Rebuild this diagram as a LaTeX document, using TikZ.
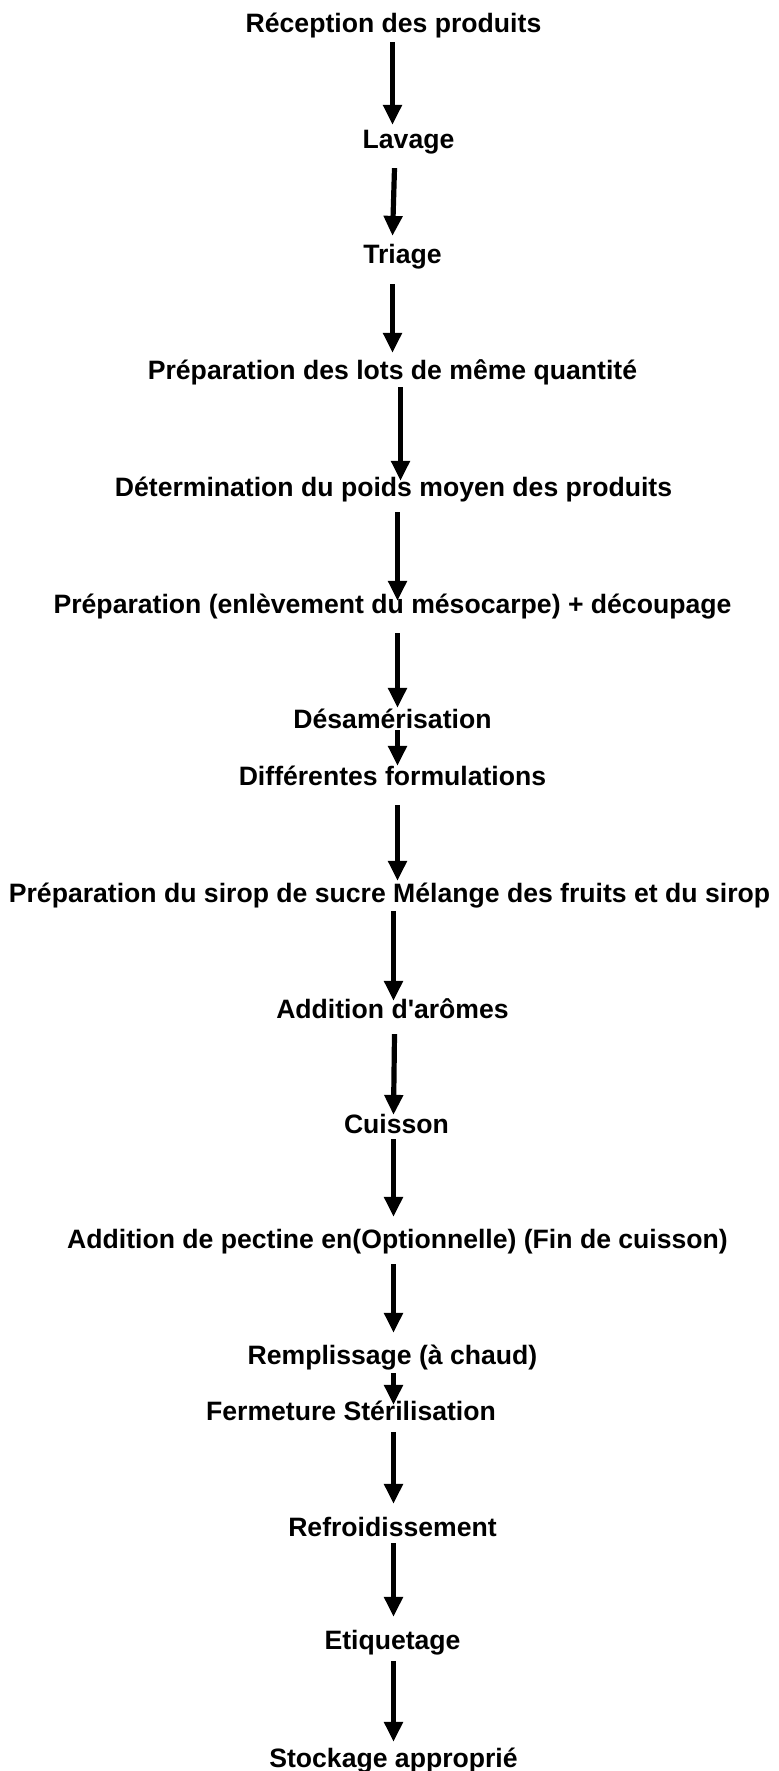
\documentclass[tikz,border=0pt]{standalone}
\usepackage{fontspec}
\setmainfont{Liberation Sans}
\usetikzlibrary{arrows.meta}

\begin{document}
\begin{tikzpicture}[x=0.5pt, y=-0.5pt, >={Triangle[width=9pt,length=10pt]},
    stage/.style={inner sep=0pt, anchor=center, font=\fontsize{13.3}{16}\selectfont\bfseries, text height=0.72em, text depth=0pt},
    flow/.style={->, line width=2.6pt}]
      \useasboundingbox (3.5,-2) rectangle (781.5,1769);

      % Steps, top to bottom
      \node[stage] (rec)   at (397,23)   {Réception des produits};
      \node[stage] (lav)   at (412,139)  {Lavage};
      \node[stage] (tri)   at (406,254)  {Triage};
      \node[stage] (lots)  at (396,370)  {Préparation des lots de même quantité};
      \node[stage] (poids) at (397,487)  {Détermination du poids moyen des produits};
      \node[stage] (meso)  at (396,604)  {Préparation (enlèvement du mésocarpe) + découpage};
      \node[stage] (desam) at (396,719)  {Désamérisation};
      \node[stage] (form)  at (396,776)  {Différentes formulations};
      \node[stage] (sirop) at (393,893)  {Préparation du sirop de sucre Mélange des fruits et du sirop};
      \node[stage] (arom)  at (396,1009) {Addition d\textquotesingle arômes};
      \node[stage] (cuis)  at (400,1124) {Cuisson};
      \node[stage] (pect)  at (401,1239) {Addition de pectine en(Optionnelle) (Fin de cuisson)};
      \node[stage] (remp)  at (396,1355) {Remplissage (à chaud)};
      \node[stage] (ferm)  at (354.5,1411) {Fermeture Stérilisation};
      \node[stage] (refr)  at (396,1527) {Refroidissement};
      \node[stage] (etiq)  at (396,1640) {Etiquetage};
      \node[stage] (stock) at (397,1758) {Stockage approprié};

      % Arrows between the steps
      \draw[flow] ([shift={(-1,9.5)}]rec.south)    -- ([shift={(-16,-8.5)}]lav.north);
      \draw[flow] ([shift={(-14,19.5)}]lav.south)  -- ([shift={(-10,-12.5)}]tri.north);
      \draw[flow] ([shift={(-10,20.5)}]tri.south)  -- ([shift={(0,-11.5)}]lots.north);
      \draw[flow] ([shift={(8,7.5)}]lots.south)    -- ([shift={(7,-0.5)}]poids.north);
      \draw[flow] ([shift={(4,15.5)}]poids.south)  -- ([shift={(5,2.5)}]meso.north);
      \draw[flow] ([shift={(5,19.5)}]meso.south)   -- ([shift={(5,-5.5)}]desam.north);
      \draw[flow] ([shift={(5,1.5)}]desam.south)   -- ([shift={(5,-4.5)}]form.north);
      \draw[flow] ([shift={(5,19.5)}]form.south)   -- ([shift={(8,-6.5)}]sirop.north);
      \draw[flow] ([shift={(4,8.5)}]sirop.south)   -- ([shift={(1,-2.5)}]arom.north);
      \draw[flow] ([shift={(2,15.5)}]arom.south)   -- ([shift={(-3,-3.5)}]cuis.north);
      \draw[flow] ([shift={(-3,5.5)}]cuis.south)   -- ([shift={(-4,-16.5)}]pect.north);
      \draw[flow] ([shift={(-4,15.5)}]pect.south)  -- ([shift={(1,-16.5)}]remp.north);
      \draw[flow] ([shift={(1,8.5)}]remp.south)    -- ([shift={(42.5,-0.5)}]ferm.north);
      \draw[flow] ([shift={(42.5,11.5)}]ferm.south) -- ([shift={(1,-17.5)}]refr.north);
      \draw[flow] ([shift={(1,6.5)}]refr.south)    -- ([shift={(1,-17.5)}]etiq.north);
      \draw[flow] ([shift={(1,11.5)}]etiq.south)   -- ([shift={(0,-10.5)}]stock.north);
\end{tikzpicture}
\end{document}
